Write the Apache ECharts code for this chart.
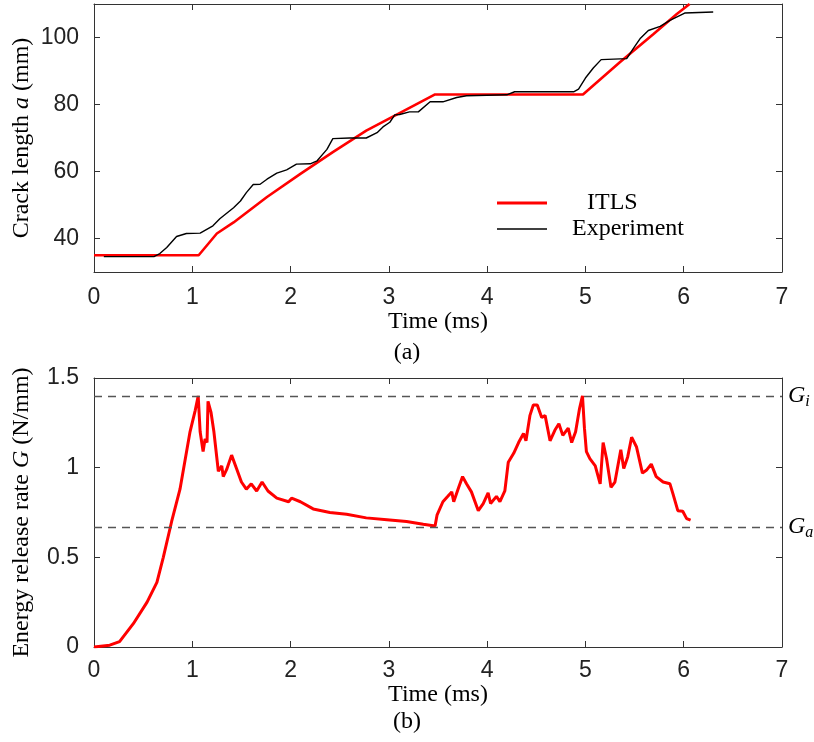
<!DOCTYPE html>
<html><head><meta charset="utf-8">
<script src="https://cdn.jsdelivr.net/npm/echarts@6/dist/echarts.min.js"></script>
<style>html,body{margin:0;padding:0;background:#fff}#c{width:814px;height:742px}</style>
</head><body><div id="c"></div>
<script>
// ---- data ----
const itlsTime = [0, 1.065, 1.25, 1.42, 1.76, 2.10, 2.43, 2.77, 3.21, 3.47, 4.975, 5.35, 5.69, 5.93, 6.06];
const itlsLength = [35, 35, 41.5, 44.8, 52.4, 59.3, 65.8, 72.2, 79.0, 83.0, 83.0, 92.6, 101.0, 107.0, 110];

const expTime = [0.10, 0.61, 0.67, 0.74, 0.84, 0.94, 1.08, 1.21, 1.28, 1.42,
  1.49, 1.55, 1.62, 1.69, 1.76, 1.86, 1.96, 2.06, 2.20, 2.27,
  2.37, 2.43, 2.60, 2.77, 2.88, 2.94, 3.01, 3.06, 3.11, 3.21,
  3.30, 3.42, 3.55, 3.69, 3.79, 4.20, 4.28, 4.88, 4.93, 5.00,
  5.08, 5.16, 5.42, 5.49, 5.56, 5.64, 5.76, 5.86, 6.01, 6.30];
const expLength = [34.6, 34.6, 35.5, 37.3, 40.6, 41.5, 41.6, 43.8, 45.9, 49.2,
  51.2, 53.7, 56.1, 56.2, 57.7, 59.5, 60.5, 62.2, 62.3, 63.2,
  66.6, 69.8, 70.0, 70.0, 71.6, 73.3, 74.7, 76.9, 77.0, 77.8,
  77.8, 80.8, 80.8, 82.1, 82.6, 82.9, 83.8, 83.8, 84.6, 87.9,
  90.9, 93.4, 93.7, 96.8, 99.8, 102.1, 103.3, 105.1, 107.3, 107.6];

const gTime = [0, 0.16, 0.26, 0.40, 0.54, 0.64, 0.705, 0.79, 0.875, 0.977,
  1.03, 1.06, 1.08, 1.11, 1.13, 1.15, 1.16, 1.19, 1.22, 1.265,
  1.30, 1.315, 1.35, 1.40, 1.45, 1.50, 1.55, 1.60, 1.655, 1.71,
  1.77, 1.86, 1.98, 2.01, 2.10, 2.23, 2.40, 2.57, 2.77, 2.98,
  3.18, 3.35, 3.47, 3.49, 3.55, 3.60, 3.64, 3.66, 3.71, 3.75,
  3.79, 3.84, 3.91, 3.96, 4.01, 4.035, 4.095, 4.13, 4.18, 4.215,
  4.27, 4.32, 4.37, 4.395, 4.435, 4.47, 4.51, 4.555, 4.59, 4.64,
  4.69, 4.73, 4.77, 4.825, 4.86, 4.90, 4.94, 4.97, 4.99, 5.01,
  5.045, 5.10, 5.15, 5.18, 5.215, 5.26, 5.30, 5.36, 5.39, 5.43,
  5.47, 5.52, 5.58, 5.62, 5.67, 5.72, 5.79, 5.86, 5.89, 5.94,
  5.99, 6.03, 6.07];
const gValue = [0, 0.01, 0.03, 0.13, 0.25, 0.36, 0.50, 0.70, 0.88, 1.20,
  1.32, 1.40, 1.20, 1.09, 1.16, 1.14, 1.37, 1.31, 1.20, 0.98,
  1.01, 0.95, 0.99, 1.07, 0.995, 0.92, 0.88, 0.91, 0.87, 0.92,
  0.87, 0.83, 0.81, 0.83, 0.81, 0.77, 0.75, 0.74, 0.72, 0.71,
  0.70, 0.684, 0.675, 0.735, 0.81, 0.84, 0.865, 0.81, 0.89, 0.95,
  0.91, 0.865, 0.76, 0.80, 0.86, 0.80, 0.84, 0.81, 0.87, 1.03,
  1.08, 1.14, 1.19, 1.15, 1.29, 1.35, 1.35, 1.28, 1.29, 1.15,
  1.21, 1.245, 1.18, 1.22, 1.14, 1.20, 1.33, 1.40, 1.22, 1.09,
  1.05, 1.01, 0.91, 1.14, 1.05, 0.89, 0.92, 1.10, 0.995, 1.06,
  1.17, 1.115, 0.97, 0.985, 1.02, 0.95, 0.92, 0.91, 0.855, 0.76,
  0.757, 0.716, 0.707];

const G_i = 1.40;
const G_a = 0.67;
const topYTicks = [40, 60, 80, 100];

// ---- chart ----
const zip = (a, b) => a.map((v, i) => [v, b[i]]);
const SANS = '"Liberation Sans", Arial, sans-serif';
const SERIF = '"Liberation Serif", "Times New Roman", serif';
const LINE = '#333';
const TICKFS = 23;
const NAMEFS = 24;

function xAx(grid, pos, showLabel, name, margin, nameGap) {
  return {
    type: 'value', gridIndex: grid, position: pos, min: 0, max: 7, interval: 1,
    axisLine: { show: true, onZero: false, lineStyle: { color: LINE, width: 1 } },
    axisTick: { show: true, inside: true, length: 6, lineStyle: { color: LINE } },
    axisLabel: { show: showLabel, fontFamily: SANS, fontSize: TICKFS, color: '#222', margin: margin || 12 },
    splitLine: { show: false },
    name: name || '', nameLocation: 'middle', nameGap: nameGap || 36, nameMoveOverlap: false,
    nameTextStyle: { fontFamily: SERIF, fontSize: NAMEFS, color: '#000' }
  };
}

const option = {
  animation: false,
  backgroundColor: '#fff',
  title: [
    { text: '(a)', left: 'center', top: 341, padding: 0, textStyle: { fontFamily: SERIF, fontSize: NAMEFS, fontWeight: 'normal', color: '#000' } },
    { text: '(b)', left: 'center', top: 710, padding: 0, textStyle: { fontFamily: SERIF, fontSize: NAMEFS, fontWeight: 'normal', color: '#000' } }
  ],
  grid: [
    { left: 94, right: 32, top: 4, height: 268, outerBoundsMode: 'none', containLabel: false },
    { left: 94, right: 32, top: 378, height: 269, outerBoundsMode: 'none', containLabel: false }
  ],
  legend: {
    orient: 'vertical', left: 497, top: 191, padding: 0, itemWidth: 50, itemHeight: 14, itemGap: 2,
    symbolKeepAspect: true,
    data: [
      { name: 'ITLS', icon: 'path://M0,0H50V3H0Z' },
      { name: 'Experiment', icon: 'path://M0,0H50V1.6H0Z' }
    ],
    formatter: n => n === 'ITLS' ? '{p|ITLS}' : '{q|' + n + '}',
    textStyle: { fontFamily: SERIF, fontSize: NAMEFS, color: '#000', lineHeight: 20,
      rich: {
        p: { fontFamily: SERIF, fontSize: NAMEFS, color: '#000', lineHeight: 20, padding: [0, 0, 0, 35] },
        q: { fontFamily: SERIF, fontSize: NAMEFS, color: '#000', lineHeight: 20, padding: [0, 0, 0, 20] }
      } }
  },
  xAxis: [
    xAx(0, 'bottom', true, 'Time (ms)', 14, 38),
    xAx(0, 'top', false),
    xAx(1, 'bottom', true, 'Time (ms)', 12, 36),
    xAx(1, 'top', false)
  ],
  yAxis: [
    {
      type: 'value', gridIndex: 0, position: 'left', min: 30, max: 110,
      axisLine: { show: true, onZero: false, lineStyle: { color: LINE } },
      axisTick: { show: true, inside: true, length: 6, customValues: topYTicks, lineStyle: { color: LINE } },
      axisLabel: { fontFamily: SANS, fontSize: TICKFS, color: '#222', margin: 15, customValues: topYTicks },
      splitLine: { show: false },
      name: 'Crack length {i|a} (mm)', nameLocation: 'middle', nameGap: 60, nameMoveOverlap: false,
      nameTextStyle: { fontFamily: SERIF, fontSize: NAMEFS, color: '#000',
        rich: { i: { fontFamily: SERIF, fontStyle: 'italic', fontSize: NAMEFS, color: '#000' } } }
    },
    {
      type: 'value', gridIndex: 0, position: 'right', min: 30, max: 110,
      axisLine: { show: true, onZero: false, lineStyle: { color: LINE } },
      axisTick: { show: true, inside: true, length: 6, customValues: topYTicks, lineStyle: { color: LINE } },
      axisLabel: { show: false },
      splitLine: { show: false }
    },
    {
      type: 'value', gridIndex: 1, position: 'left', min: 0, max: 1.5, interval: 0.5,
      axisLine: { show: true, onZero: false, lineStyle: { color: LINE } },
      axisTick: { show: true, inside: true, length: 6, lineStyle: { color: LINE } },
      axisLabel: { fontFamily: SANS, fontSize: TICKFS, color: '#222', margin: 15 },
      splitLine: { show: false },
      name: 'Energy release rate {i|G} (N/mm)', nameLocation: 'middle', nameGap: 60, nameMoveOverlap: false,
      nameTextStyle: { fontFamily: SERIF, fontSize: NAMEFS, color: '#000',
        rich: { i: { fontFamily: SERIF, fontStyle: 'italic', fontSize: NAMEFS, color: '#000' } } }
    },
    {
      type: 'value', gridIndex: 1, position: 'right', min: 0, max: 1.5, interval: 0.5,
      axisLine: { show: true, onZero: false, lineStyle: { color: LINE } },
      axisTick: { show: true, inside: true, length: 6, lineStyle: { color: LINE } },
      axisLabel: { show: false },
      splitLine: { show: false }
    }
  ],
  series: [
    {
      name: 'ITLS', type: 'line', xAxisIndex: 0, yAxisIndex: 0, symbol: 'none', clip: true,
      data: zip(itlsTime, itlsLength), lineStyle: { color: '#ff0000', width: 2.6 }, itemStyle: { color: '#ff0000' }, z: 3
    },
    {
      name: 'Experiment', type: 'line', xAxisIndex: 0, yAxisIndex: 0, symbol: 'none', clip: true,
      data: zip(expTime, expLength), lineStyle: { color: '#000', width: 1.4 }, itemStyle: { color: '#000' }, z: 4
    },
    {
      name: 'G', type: 'line', xAxisIndex: 2, yAxisIndex: 2, symbol: 'none', clip: true,
      data: zip(gTime, gValue), lineStyle: { color: '#ff0000', width: 3 }, itemStyle: { color: '#ff0000' }, z: 3,
      markLine: {
        silent: true, symbol: 'none', animation: false,
        lineStyle: { color: '#555', type: [8, 6], width: 1.3 },
        label: {
          position: 'end', distance: 6,
          fontFamily: SERIF, fontStyle: 'italic', fontSize: NAMEFS, color: '#000',
          rich: {
            g: { fontFamily: SERIF, fontStyle: 'italic', fontSize: NAMEFS, color: '#000' },
            s: { fontFamily: SERIF, fontStyle: 'italic', fontSize: 16, color: '#000', padding: [12, 0, 0, 0] }
          }
        },
        emphasis: { disabled: true },
        data: [
          { yAxis: G_i, label: { formatter: '{g|G}{s|i}' } },
          { yAxis: G_a, label: { formatter: '{g|G}{s|a}' } }
        ]
      }
    }
  ]
};
const chart = echarts.init(document.getElementById('c'), null, { renderer: 'canvas' });
chart.setOption(option);
</script>
</body></html>
